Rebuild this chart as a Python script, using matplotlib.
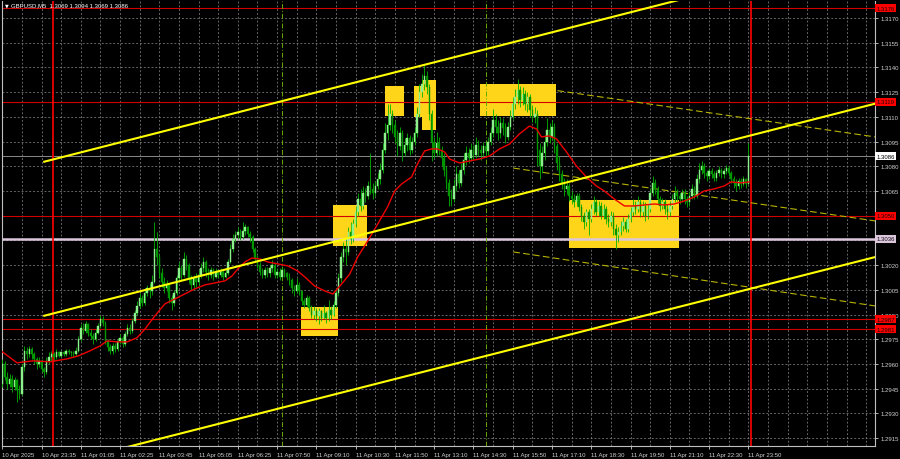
import numpy as np
import matplotlib
matplotlib.use("Agg")
import matplotlib.pyplot as plt
from matplotlib.patches import Rectangle
import matplotlib.transforms as mtrans

plt.rcParams['font.family'] = ['Liberation Sans', 'DejaVu Sans']

# --- GBPUSD M5, bar by bar (close / high / low), open = previous close ---
first_open = 1.2948
closes = [
    1.2960, 1.2952, 1.2948, 1.2951, 1.2946, 1.2950, 1.2944, 1.2942, 1.2958, 1.2968, 1.2966, 1.2969,
    1.2966, 1.2963, 1.2960, 1.2962, 1.2957, 1.2955, 1.2962, 1.2964, 1.2966, 1.2964, 1.2967, 1.2965,
    1.2967, 1.2966, 1.2968, 1.2967, 1.2967, 1.2966, 1.2968, 1.2975, 1.2982, 1.2980, 1.2984, 1.2979,
    1.2977, 1.2975, 1.2979, 1.2983, 1.2987, 1.2985, 1.2974, 1.2970, 1.2968, 1.2971, 1.2969, 1.2974,
    1.2976, 1.2972, 1.2978, 1.2982, 1.2980, 1.2986, 1.2991, 1.2995, 1.3000, 1.2997, 1.3003, 1.3006,
    1.3004, 1.3010, 1.3030, 1.3025, 1.3015, 1.3010, 1.3006, 1.3008, 1.3000, 1.2997, 1.3003, 1.3012,
    1.3018, 1.3014, 1.3024, 1.3020, 1.3012, 1.3008, 1.3012, 1.3010, 1.3014, 1.3018, 1.3022, 1.3016,
    1.3014, 1.3017, 1.3013, 1.3016, 1.3014, 1.3016, 1.3013, 1.3015, 1.3022, 1.3030, 1.3036, 1.3038,
    1.3040, 1.3037, 1.3041, 1.3043, 1.3039, 1.3037, 1.3030, 1.3024, 1.3020, 1.3016, 1.3014, 1.3017,
    1.3015, 1.3018, 1.3020, 1.3014, 1.3016, 1.3013, 1.3017, 1.3015, 1.3013, 1.3011, 1.3006, 1.3004,
    1.3008, 1.3004, 1.2998, 1.2996, 1.3000, 1.2994, 1.2990, 1.2992, 1.2989, 1.2992, 1.2988, 1.2991,
    1.2988, 1.2993, 1.2990, 1.2996, 1.3003, 1.3012, 1.3025, 1.3030, 1.3028, 1.3040, 1.3036, 1.3045,
    1.3052, 1.3060, 1.3056, 1.3064, 1.3062, 1.3068, 1.3066, 1.3064, 1.3068, 1.3072, 1.3078, 1.3090,
    1.3100, 1.3105, 1.3112, 1.3105, 1.3098, 1.3092, 1.3100, 1.3088, 1.3093, 1.3097, 1.3090, 1.3095,
    1.3100, 1.3112, 1.3125, 1.3130, 1.3135, 1.3128, 1.3112, 1.3095, 1.3088, 1.3094, 1.3090, 1.3085,
    1.3078, 1.3070, 1.3062, 1.3060, 1.3068, 1.3075, 1.3070, 1.3078, 1.3084, 1.3088, 1.3085, 1.3090,
    1.3087, 1.3093, 1.3090, 1.3088, 1.3092, 1.3089, 1.3095, 1.3100, 1.3108, 1.3104, 1.3100, 1.3106,
    1.3103, 1.3098, 1.3104, 1.3110, 1.3118, 1.3122, 1.3126, 1.3120, 1.3124, 1.3118, 1.3122, 1.3114,
    1.3110, 1.3112, 1.3090, 1.3080, 1.3088, 1.3095, 1.3102, 1.3098, 1.3104, 1.3092, 1.3082, 1.3075,
    1.3070, 1.3066, 1.3068, 1.3062, 1.3060, 1.3058, 1.3062, 1.3055, 1.3050, 1.3046, 1.3052, 1.3048,
    1.3054, 1.3058, 1.3052, 1.3056, 1.3050, 1.3054, 1.3048, 1.3046, 1.3050, 1.3042, 1.3038, 1.3040,
    1.3044, 1.3046, 1.3042, 1.3048, 1.3052, 1.3056, 1.3054, 1.3058, 1.3052, 1.3056, 1.3050, 1.3054,
    1.3064, 1.3070, 1.3066, 1.3060, 1.3056, 1.3058, 1.3054, 1.3052, 1.3056, 1.3060, 1.3064, 1.3062,
    1.3060, 1.3064, 1.3060, 1.3058, 1.3062, 1.3066, 1.3062, 1.3072, 1.3078, 1.3080, 1.3076, 1.3074,
    1.3077, 1.3075, 1.3073, 1.3076, 1.3078, 1.3075, 1.3077, 1.3079, 1.3076, 1.3072, 1.3070, 1.3068,
    1.3071, 1.3069, 1.3072, 1.3069, 1.3086,
]
highs = [
    1.2963, 1.2962, 1.2955, 1.2954, 1.2953, 1.2952, 1.2951, 1.2947, 1.2960, 1.2971, 1.2970, 1.2971,
    1.2970, 1.2967, 1.2964, 1.2964, 1.2963, 1.2958, 1.2964, 1.2967, 1.2968, 1.2967, 1.2969, 1.2968,
    1.2968, 1.2968, 1.2969, 1.2969, 1.2968, 1.2968, 1.2970, 1.2977, 1.2984, 1.2985, 1.2986, 1.2985,
    1.2981, 1.2979, 1.2981, 1.2985, 1.2990, 1.2989, 1.2986, 1.2975, 1.2972, 1.2973, 1.2973, 1.2976,
    1.2978, 1.2977, 1.2980, 1.2984, 1.2984, 1.2988, 1.2993, 1.2998, 1.3003, 1.3002, 1.3006, 1.3008,
    1.3009, 1.3014, 1.3046, 1.3040, 1.3027, 1.3018, 1.3013, 1.3011, 1.3009, 1.3002, 1.3005, 1.3014,
    1.3022, 1.3020, 1.3028, 1.3026, 1.3021, 1.3014, 1.3014, 1.3015, 1.3017, 1.3021, 1.3025, 1.3023,
    1.3018, 1.3019, 1.3018, 1.3018, 1.3017, 1.3018, 1.3017, 1.3017, 1.3024, 1.3033, 1.3039, 1.3041,
    1.3043, 1.3042, 1.3046, 1.3045, 1.3044, 1.3041, 1.3038, 1.3031, 1.3026, 1.3022, 1.3018, 1.3019,
    1.3019, 1.3020, 1.3023, 1.3021, 1.3018, 1.3018, 1.3019, 1.3018, 1.3016, 1.3015, 1.3012, 1.3008,
    1.3012, 1.3010, 1.3005, 1.3000, 1.3002, 1.3001, 1.2996, 1.2995, 1.2994, 1.2994, 1.2993, 1.2996,
    1.2992, 1.2999, 1.2995, 1.2998, 1.3006, 1.3015, 1.3028, 1.3034, 1.3036, 1.3043, 1.3046, 1.3048,
    1.3056, 1.3064, 1.3066, 1.3068, 1.3067, 1.3071, 1.3088, 1.3070, 1.3071, 1.3076, 1.3082, 1.3094,
    1.3106, 1.3118, 1.3118, 1.3114, 1.3108, 1.3102, 1.3104, 1.3102, 1.3097, 1.3100, 1.3099, 1.3098,
    1.3104, 1.3116, 1.3130, 1.3136, 1.3142, 1.3138, 1.3130, 1.3114, 1.3098, 1.3101, 1.3098, 1.3092,
    1.3088, 1.3080, 1.3072, 1.3066, 1.3072, 1.3080, 1.3078, 1.3082, 1.3088, 1.3092, 1.3091, 1.3094,
    1.3093, 1.3098, 1.3096, 1.3093, 1.3095, 1.3095, 1.3098, 1.3104, 1.3115, 1.3112, 1.3108, 1.3110,
    1.3109, 1.3106, 1.3107, 1.3114, 1.3122, 1.3127, 1.3133, 1.3129, 1.3128, 1.3126, 1.3125, 1.3124,
    1.3117, 1.3116, 1.3114, 1.3094, 1.3092, 1.3099, 1.3109, 1.3106, 1.3108, 1.3106, 1.3094, 1.3086,
    1.3078, 1.3073, 1.3072, 1.3070, 1.3065, 1.3063, 1.3064, 1.3064, 1.3057, 1.3052, 1.3054, 1.3054,
    1.3057, 1.3062, 1.3060, 1.3059, 1.3058, 1.3057, 1.3056, 1.3051, 1.3053, 1.3052, 1.3045, 1.3043,
    1.3047, 1.3049, 1.3048, 1.3051, 1.3055, 1.3060, 1.3059, 1.3062, 1.3060, 1.3059, 1.3058, 1.3057,
    1.3067, 1.3074, 1.3072, 1.3068, 1.3062, 1.3061, 1.3060, 1.3057, 1.3059, 1.3063, 1.3068, 1.3066,
    1.3064, 1.3066, 1.3066, 1.3062, 1.3065, 1.3069, 1.3068, 1.3075, 1.3082, 1.3083, 1.3082, 1.3078,
    1.3079, 1.3079, 1.3077, 1.3078, 1.3080, 1.3079, 1.3079, 1.3081, 1.3080, 1.3077, 1.3074, 1.3072,
    1.3073, 1.3073, 1.3074, 1.3073, 1.3094,
]
lows = [
    1.2946, 1.2950, 1.2945, 1.2946, 1.2943, 1.2944, 1.2937, 1.2939, 1.2941, 1.2956, 1.2963, 1.2964,
    1.2963, 1.2960, 1.2957, 1.2958, 1.2955, 1.2952, 1.2954, 1.2960, 1.2962, 1.2962, 1.2963, 1.2964,
    1.2964, 1.2965, 1.2965, 1.2966, 1.2965, 1.2964, 1.2965, 1.2967, 1.2974, 1.2978, 1.2979, 1.2977,
    1.2975, 1.2972, 1.2974, 1.2978, 1.2982, 1.2983, 1.2972, 1.2968, 1.2966, 1.2966, 1.2967, 1.2968,
    1.2972, 1.2970, 1.2971, 1.2977, 1.2978, 1.2979, 1.2985, 1.2990, 1.2994, 1.2995, 1.2996, 1.3001,
    1.3000, 1.3002, 1.3009, 1.3020, 1.3012, 1.3007, 1.3003, 1.3004, 1.2997, 1.2993, 1.2995, 1.3002,
    1.3010, 1.3011, 1.3013, 1.3017, 1.3009, 1.3005, 1.3006, 1.3007, 1.3008, 1.3012, 1.3016, 1.3013,
    1.3011, 1.3012, 1.3011, 1.3012, 1.3012, 1.3013, 1.3011, 1.3012, 1.3014, 1.3021, 1.3028, 1.3034,
    1.3036, 1.3035, 1.3036, 1.3038, 1.3037, 1.3034, 1.3028, 1.3022, 1.3018, 1.3014, 1.3012, 1.3012,
    1.3013, 1.3013, 1.3016, 1.3012, 1.3012, 1.3011, 1.3012, 1.3013, 1.3011, 1.3008, 1.3003, 1.3001,
    1.3003, 1.3002, 1.2996, 1.2994, 1.2995, 1.2992, 1.2988, 1.2987, 1.2986, 1.2984, 1.2986, 1.2987,
    1.2985, 1.2986, 1.2987, 1.2989, 1.2994, 1.3001, 1.3010, 1.3022, 1.3020, 1.3026, 1.3033, 1.3034,
    1.3043, 1.3050, 1.3053, 1.3054, 1.3058, 1.3060, 1.3063, 1.3060, 1.3062, 1.3066, 1.3069, 1.3076,
    1.3088, 1.3096, 1.3102, 1.3100, 1.3094, 1.3086, 1.3090, 1.3083, 1.3086, 1.3089, 1.3087, 1.3088,
    1.3093, 1.3098, 1.3110, 1.3122, 1.3126, 1.3124, 1.3108, 1.3083, 1.3085, 1.3086, 1.3087, 1.3080,
    1.3074, 1.3066, 1.3056, 1.3056, 1.3058, 1.3065, 1.3067, 1.3068, 1.3075, 1.3081, 1.3082, 1.3083,
    1.3084, 1.3085, 1.3086, 1.3084, 1.3086, 1.3086, 1.3087, 1.3093, 1.3098, 1.3100, 1.3096, 1.3097,
    1.3099, 1.3094, 1.3096, 1.3102, 1.3108, 1.3115, 1.3118, 1.3116, 1.3117, 1.3114, 1.3113, 1.3110,
    1.3107, 1.3106, 1.3080, 1.3072, 1.3076, 1.3084, 1.3092, 1.3094, 1.3096, 1.3088, 1.3078, 1.3071,
    1.3066, 1.3062, 1.3063, 1.3059, 1.3057, 1.3055, 1.3056, 1.3053, 1.3047, 1.3042, 1.3044, 1.3038,
    1.3046, 1.3051, 1.3050, 1.3050, 1.3048, 1.3048, 1.3045, 1.3043, 1.3044, 1.3038, 1.3030, 1.3034,
    1.3038, 1.3041, 1.3040, 1.3040, 1.3046, 1.3050, 1.3051, 1.3052, 1.3049, 1.3050, 1.3047, 1.3048,
    1.3052, 1.3062, 1.3063, 1.3057, 1.3053, 1.3054, 1.3051, 1.3048, 1.3050, 1.3054, 1.3058, 1.3059,
    1.3057, 1.3058, 1.3057, 1.3055, 1.3056, 1.3060, 1.3060, 1.3061, 1.3070, 1.3075, 1.3073, 1.3071,
    1.3072, 1.3073, 1.3071, 1.3071, 1.3074, 1.3073, 1.3073, 1.3075, 1.3074, 1.3070, 1.3067, 1.3065,
    1.3066, 1.3067, 1.3068, 1.3067, 1.3069,
]

# moving average as drawn on the chart (bar index, price)
ma_bar = [0, 6, 12.6, 19.5, 26.4, 31, 35.8, 39.9, 42.7, 46.8, 50.9, 54.9, 58.2, 62.2, 66.3, 70.4,
          74.5, 78.5, 82.6, 86.7, 90.7, 93.6, 96, 98.9, 101.7, 105, 108.2, 112.3, 116.4, 120.4,
          123.3, 127.3, 131.4, 134.7, 138.3, 141.6, 144.8, 148.9, 153, 157, 159.9, 162.7, 166.8,
          169.2, 172.1, 174.9, 177.4, 180.2, 182.3, 186.3, 190.4, 194.5, 198.5, 202.6, 206.7,
          210.7, 214.8, 217.7, 219.7, 222.9, 225.8, 229.9, 233.9, 238, 242.1, 245.3, 249.4, 253.5,
          257.5, 261.6, 265.7, 269.7, 273.8, 277.9, 281.9, 286, 290, 294.1, 297, 301, 304.3]
ma_val = [1.29674, 1.29607, 1.29619, 1.29613, 1.29631, 1.29649, 1.29680, 1.29710, 1.29740,
          1.29734, 1.29734, 1.29759, 1.29813, 1.29892, 1.29965, 1.29995, 1.30026, 1.30056,
          1.30080, 1.30092, 1.30104, 1.30134, 1.30177, 1.30219, 1.30243, 1.30237, 1.30219,
          1.30207, 1.30195, 1.30164, 1.30128, 1.30073, 1.30043, 1.30025, 1.30086, 1.30146,
          1.30249, 1.30346, 1.30450, 1.30553, 1.30650, 1.30692, 1.30735, 1.30814, 1.30893,
          1.30905, 1.30905, 1.30887, 1.30844, 1.30820, 1.30832, 1.30844, 1.30862, 1.30905,
          1.30935, 1.30996, 1.31044, 1.31026, 1.30978, 1.30984, 1.30966, 1.30887, 1.30802,
          1.30735, 1.30680, 1.30650, 1.30601, 1.30559, 1.30559, 1.30565, 1.30571, 1.30565,
          1.30571, 1.30589, 1.30613, 1.30650, 1.30662, 1.30680, 1.30705, 1.30699, 1.30705]

# x axis labels (every 16 bars)
xtick_bars = list(range(0, 305, 16))
xtick_labels = ["10 Apr 2025", "10 Apr 23:35", "11 Apr 01:05", "11 Apr 02:25", "11 Apr 03:45",
                "11 Apr 05:05", "11 Apr 06:25", "11 Apr 07:50", "11 Apr 09:10", "11 Apr 10:30",
                "11 Apr 11:50", "11 Apr 13:10", "11 Apr 14:30", "11 Apr 15:50", "11 Apr 17:10",
                "11 Apr 18:30", "11 Apr 19:50", "11 Apr 21:10", "11 Apr 22:30", "11 Apr 23:50"]
ytick_vals = [round(1.2915 + 0.0015 * k, 4) for k in range(18)]

# chart objects
red_levels = [1.3176, 1.3119, 1.3050, 1.2987, 1.2981]
support_level = 1.3036
bid_price = 1.3086
day_lines = [20.7, 305.1]
session_lines = [113.9, 197.3]
# channel lines: (bar0, price0, bar1, price1)
channel = [(16.7, 1.30826, 355.7, 1.32113),
           (16.7, 1.29891, 355.7, 1.31180),
           (0.0, 1.28903, 355.7, 1.30249)]
dashed_channel = [(226.2, 1.31259, 355.7, 1.30978),
                  (208.2, 1.30789, 355.7, 1.30468),
                  (208.2, 1.30280, 355.7, 1.29952)]
# yellow areas: (bar_left, bar_right, price_low, price_high)
boxes = [(121.8, 136.9, 1.29770, 1.29946),
         (134.9, 148.7, 1.30316, 1.30565),
         (155.8, 163.7, 1.31105, 1.31285),
         (167.9, 171.1, 1.31100, 1.31285),
         (171.0, 176.7, 1.31022, 1.31324),
         (194.8, 225.6, 1.31107, 1.31299),
         (230.8, 275.6, 1.30302, 1.30595)]

# ---------------------------------------------------------------
fig = plt.figure(figsize=(9, 4.6), dpi=100, facecolor="black")
ax = fig.add_axes([2 / 900, 13 / 460, 873 / 900, 445 / 460], facecolor="black")
ax.set_xlim(-0.1, 355.6)
ax.set_ylim(1.29102, 1.31803)

txt_col = "#d0d0d0"
fs = 4.3

# grid
for b in range(8, 356, 8):
    ax.axvline(b, color="#808080", lw=0.55, ls=(0, (2.5, 2.5)), zorder=0)
for v in ytick_vals:
    ax.axhline(v, color="#808080", lw=0.55, ls=(0, (2.5, 2.5)), zorder=0)

for (b0, b1, p0, p1) in boxes:
    ax.add_patch(Rectangle((b0, p0), b1 - b0, p1 - p0, facecolor="#FFD51A",
                           edgecolor="none", zorder=1))

for lvl in red_levels:
    ax.axhline(lvl, color="#d00000", lw=0.8, zorder=2)
ax.axhline(support_level, color="#dcc6dc", lw=1.8, zorder=2)
ax.axhline(bid_price, color="#8a8a8a", lw=0.7, zorder=2)
for b in day_lines:
    ax.axvline(b, color="#ff0000", lw=1.2, zorder=2)
for b in session_lines:
    ax.axvline(b, color="#66aa00", lw=0.7, ls=(0, (5, 2, 1, 2)), zorder=2)

for (b0, p0, b1, p1) in dashed_channel:
    ax.plot([b0, b1], [p0, p1], color="#b8b400", lw=0.8, ls=(0, (6, 3)), zorder=2)

# candles
idx = np.arange(len(closes))
c = np.array(closes)
o = np.concatenate([[first_open], c[:-1]])
h = np.maximum(np.array(highs), np.maximum(o, c))
l = np.minimum(np.array(lows), np.minimum(o, c))
up = c >= o
ax.vlines(idx, l, h, color="#00b400", lw=0.6, zorder=3)
ax.bar(idx[up], (c - o)[up], bottom=o[up], width=0.6, color="#8cf08c",
       edgecolor="#8cf08c", lw=0.3, zorder=4)
ax.bar(idx[~up], (c - o)[~up], bottom=o[~up], width=0.6, color="#009600",
       edgecolor="#009600", lw=0.3, zorder=4)

ax.plot(ma_bar, ma_val, color="#ee0000", lw=1.0, zorder=5)

for (b0, p0, b1, p1) in channel:
    ax.plot([b0, b1], [p0, p1], color="#ffff00", lw=1.5, zorder=6, solid_capstyle="butt")

# axes styling
ax.spines["top"].set_visible(False)
for s in ["left", "right", "bottom"]:
    ax.spines[s].set_color("#c0c0c0")
    ax.spines[s].set_linewidth(0.8)

tags = red_levels + [support_level, bid_price]
ylabels = []
for v in ytick_vals:
    # scale labels that sit under a price tag are covered by it
    hidden = any(abs(v - t) < 0.00025 for t in tags)
    ylabels.append("" if hidden else f"{v:.4f}")

ax.yaxis.tick_right()
ax.set_yticks(ytick_vals)
ax.set_yticklabels(ylabels)
ax.tick_params(axis="y", colors=txt_col, labelsize=fs, length=2.5, width=0.6, pad=1.5)
ax.set_xticks(xtick_bars)
ax.set_xticklabels(xtick_labels, ha="left")
ax.tick_params(axis="x", colors=txt_col, labelsize=fs, length=2.5, width=0.6, pad=1.5)

# price labels on the right scale
tr = mtrans.blended_transform_factory(ax.transAxes, ax.transData)
def price_tag(val, bg, fg):
    ax.text(1.0015, val, f"{val:.4f}", transform=tr, fontsize=fs, color=fg, ha="left",
            va="center", clip_on=False, zorder=10,
            bbox=dict(boxstyle="square,pad=0.25", facecolor=bg, edgecolor="none"))

for lvl in red_levels:
    price_tag(lvl, "#ff0000", "#200000")
price_tag(support_level, "#dcc6dc", "#101010")
price_tag(bid_price, "#ffffff", "#000000")

# header
fig.text(5 / 900, 1 - 6 / 460, "\u25bc", fontsize=3.5, color="white", va="center", ha="left",
         family="DejaVu Sans")
fig.text(11 / 900, 1 - 6 / 460, "GBPUSD,M5  1.3069 1.3094 1.3069 1.3086", fontsize=fs,
         color="white", va="center", ha="left")

fig.savefig("out.png", dpi=100, facecolor="black")
